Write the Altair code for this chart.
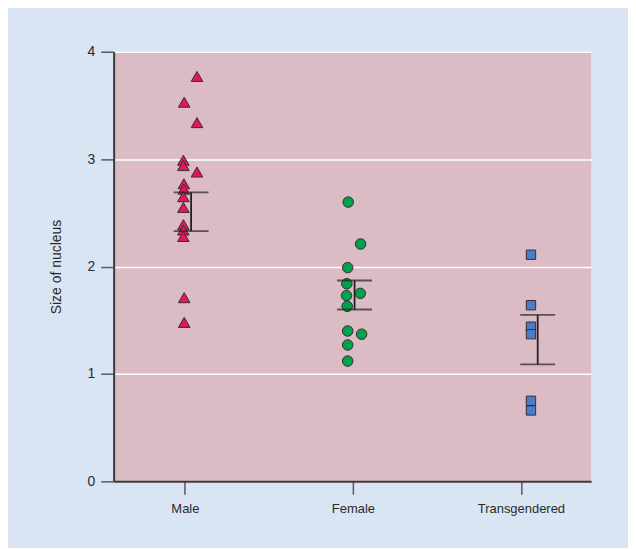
import altair as alt
import pandas as pd

# ---- data ----
groups = ["Male", "Female", "Transgendered"]

male_values = [3.77, 3.53, 3.34, 2.99, 2.94, 2.88, 2.77, 2.72, 2.65, 2.55, 2.39, 2.34, 2.28, 1.71, 1.48]
male_jitter = [0.072, -0.004, 0.072, -0.009, -0.009, 0.072, -0.006, -0.006, -0.009, -0.009, -0.009, -0.009, -0.009, -0.004, -0.004]

female_values = [2.60, 2.21, 1.99, 1.84, 1.75, 1.73, 1.63, 1.40, 1.37, 1.27, 1.12]
female_jitter = [-0.028, 0.046, -0.031, -0.036, 0.044, -0.038, -0.034, -0.031, 0.052, -0.031, -0.031]

trans_values = [2.11, 1.64, 1.44, 1.37, 0.75, 0.66]
trans_jitter = [0.06, 0.06, 0.06, 0.06, 0.06, 0.06]

err_low = [2.33, 1.60, 1.09]
err_high = [2.69, 1.87, 1.55]
err_jitter = [0.037, 0.010, 0.10]

y_ticks = [0, 1, 2, 3, 4]

# ---- tables ----
rows = []
for g, vals, jit in [(groups[0], male_values, male_jitter),
                     (groups[1], female_values, female_jitter),
                     (groups[2], trans_values, trans_jitter)]:
    for v, j in zip(vals, jit):
        rows.append({"group": g, "pos": groups.index(g) + 1 + j, "value": v})
pts = pd.DataFrame(rows)

err = pd.DataFrame({
    "group": groups,
    "pos": [i + 1 + j for i, j in enumerate(err_jitter)],
    "lo": err_low,
    "hi": err_high,
})

FONT = "Liberation Sans"
label_expr = "[" + ",".join("'%s'" % g for g in groups) + "][datum.value - 1]"

xscale = alt.Scale(domain=[0.576, 3.418], nice=False, zero=False)
yscale = alt.Scale(domain=[0, 4], nice=False)

x_axis = alt.Axis(values=[1, 2, 3], labelExpr=label_expr, title=None, grid=False,
                  domainColor="#3a3a3a", domainWidth=2, tickColor="#5a5a5a",
                  tickWidth=1.5, tickSize=13, labelFont=FONT, labelFontSize=13,
                  labelColor="#2a2a2a", labelPadding=8)
y_axis = alt.Axis(values=y_ticks, format="d", title="Size of nucleus", grid=True,
                  gridColor="white", gridWidth=1.5, domainColor="#3a3a3a",
                  domainWidth=2, tickColor="#5a5a5a", tickWidth=1.5, tickSize=13,
                  labelFont=FONT, labelFontSize=14, labelColor="#2a2a2a",
                  labelPadding=6, titleFont=FONT, titleFontSize=14,
                  titleFontWeight="normal", titleColor="#2a2a2a", titlePadding=24)

points = alt.Chart(pts).mark_point(filled=True, opacity=1, stroke="#3a2a30",
                                    strokeWidth=1).encode(
    x=alt.X("pos:Q", scale=xscale, axis=x_axis),
    y=alt.Y("value:Q", scale=yscale, axis=y_axis),
    shape=alt.Shape("group:N", scale=alt.Scale(domain=groups,
                    range=["triangle-up", "circle", "square"]), legend=None),
    fill=alt.Fill("group:N", scale=alt.Scale(domain=groups,
                  range=["#e3175a", "#00a14b", "#4a7dc9"]), legend=None),
    size=alt.Size("group:N", scale=alt.Scale(domain=groups, range=[135, 88, 95]),
                  legend=None),
)

vbar = alt.Chart(err).mark_rule(color="#222222", strokeWidth=1.8).encode(
    x=alt.X("pos:Q", scale=xscale),
    y=alt.Y("lo:Q", scale=yscale),
    y2="hi:Q",
)
cap_lo = alt.Chart(err).mark_tick(color="#222222", thickness=1.8, size=35,
                                  orient="horizontal").encode(
    x=alt.X("pos:Q", scale=xscale),
    y=alt.Y("lo:Q", scale=yscale),
)
cap_hi = alt.Chart(err).mark_tick(color="#222222", thickness=1.8, size=35,
                                  orient="horizontal").encode(
    x=alt.X("pos:Q", scale=xscale),
    y=alt.Y("hi:Q", scale=yscale),
)

chart = alt.layer(points, vbar, cap_lo, cap_hi).properties(
    width=479, height=431,
    autosize=alt.AutoSizeParams(type="none"),
    padding={"left": 106, "top": 43, "right": 37, "bottom": 66},
    background="#d9e5f2",
).configure_view(fill="#dcbcc4", stroke=None)

chart.save("out.html", embed_options={"renderer": "svg", "actions": False})
